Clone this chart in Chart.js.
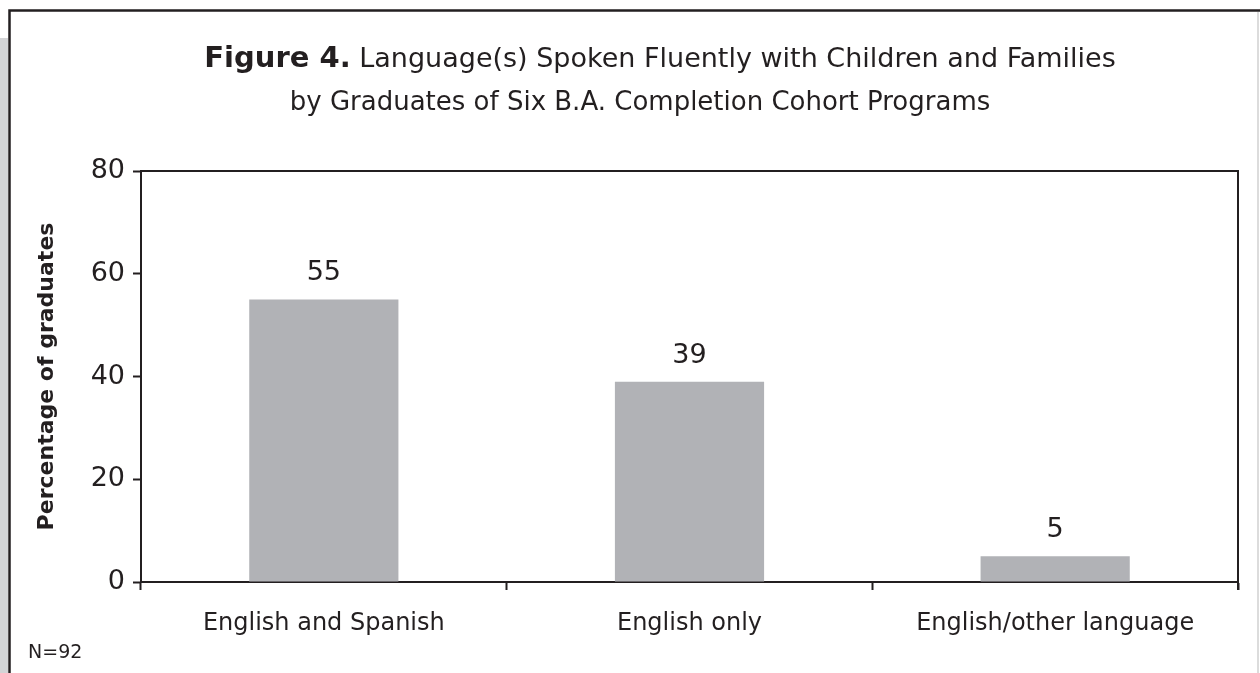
<!DOCTYPE html>
<html>
<head>
<meta charset="utf-8">
<script src="https://cdn.jsdelivr.net/npm/chart.js@4.4.1/dist/chart.umd.min.js"></script>
<style>
  html, body { margin: 0; padding: 0; background: #fff; }
  #wrap { width: 1260px; height: 673px; position: relative; }
</style>
</head>
<body>
<div id="wrap"><canvas id="langChart" width="1260" height="673"></canvas></div>
<script>
// data
const categories = ["English and Spanish", "English only", "English/other language"];
const percents = [55, 39, 5];
const yTicks = [0, 20, 40, 60, 80];
const titleBold = "Figure 4.";
const titleLine1 = " Language(s) Spoken Fluently with Children and Families";
const titleLine2 = "by Graduates of Six B.A. Completion Cohort Programs";
const noteText = "N=92";

const ink = "#231f20";
const barGray = "#b1b2b6";
const fontFam = "'DejaVu Sans', sans-serif";

// frame, gray strip and title
const framePlugin = {
    id: "frame",
    beforeDraw(chart){
        const c = chart.ctx;
        c.save();
        c.fillStyle = "#fff";
        c.fillRect(0, 0, chart.width, chart.height);
        c.fillStyle = "#d3d4d6";
        c.fillRect(0, 38, 8, chart.height - 38);
        c.strokeStyle = "#dcdcdc";
        c.lineWidth = 2;
        c.beginPath();
        c.moveTo(1258, 12); c.lineTo(1258, chart.height);
        c.stroke();
        c.strokeStyle = ink;
        c.lineWidth = 2.5;
        c.beginPath();
        c.moveTo(9.5, chart.height); c.lineTo(9.5, 10.5); c.lineTo(chart.width, 10.5);
        c.stroke();
        c.restore();
    },
    afterDraw(chart){
        const c = chart.ctx;
        c.save();
        c.fillStyle = ink;
        c.textBaseline = "alphabetic";
        c.textAlign = "left";
        const boldFont = "bold 29px " + fontFam;
        const normFont = "27px " + fontFam;
        c.font = boldFont;
        const w1 = c.measureText(titleBold).width;
        c.font = normFont;
        const w2 = c.measureText(titleLine1).width;
        let x = 660 - (w1 + w2) / 2;
        c.font = boldFont;
        c.fillText(titleBold, x, 67);
        c.font = normFont;
        c.fillText(titleLine1, x + w1, 67);
        c.textAlign = "center";
        c.font = "26px " + fontFam;
        c.fillText(titleLine2, 640, 110);

        c.textAlign = "left";
        c.font = "19px " + fontFam;
        c.fillText(noteText, 28, 658);
        c.restore();
    }
};

// top and right edge of plot box
const boxPlugin = {
    id: "box",
    afterDraw(chart){
        const a = chart.chartArea;
        const c = chart.ctx;
        c.save();
        c.strokeStyle = ink;
        c.lineWidth = 2;
        c.beginPath();
        c.moveTo(a.left, a.top); c.lineTo(a.right, a.top); c.lineTo(a.right, a.bottom + 8);
        c.stroke();
        c.restore();
    }
};

// value above each bar
const valuePlugin = {
    id: "values",
    afterDatasetsDraw(chart){
        const c = chart.ctx;
        const meta = chart.getDatasetMeta(0);
        c.save();
        c.fillStyle = ink;
        c.font = "27px " + fontFam;
        c.textAlign = "center";
        c.textBaseline = "alphabetic";
        meta.data.forEach((bar, i)=>{
            c.fillText(String(percents[i]), bar.x, bar.y - 19);
        });
        c.restore();
    }
};

new Chart(document.getElementById("langChart"), {
    type: "bar",
    data: {
        labels: categories,
        datasets: [{
            data: percents,
            backgroundColor: barGray,
            borderWidth: 0,
            barPercentage: 0.408,
            categoryPercentage: 1
        }]
    },
    options: {
        responsive: false,
        animation: false,
        layout: { padding: { top: 171, right: 22, left: 0, bottom: 0 } },
        plugins: {
            legend: { display: false },
            tooltip: { enabled: false },
            title: { display: false }
        },
        scales: {
            x: {
                grid: {
                    offset: true,
                    drawOnChartArea: false,
                    drawTicks: true,
                    tickLength: 8,
                    tickWidth: 2,
                    tickColor: ink
                },
                border: { display: true, color: ink, width: 2 },
                ticks: {
                    color: ink,
                    font: { family: fontFam, size: 24 },
                    padding: 19,
                    maxRotation: 0,
                    autoSkip: false
                },
                afterFit(scale){ scale.height = 91; }
            },
            y: {
                min: 0,
                max: 80,
                afterBuildTicks(scale){ scale.ticks = yTicks.map(v=>({ value: v })); },
                grid: {
                    drawOnChartArea: false,
                    drawTicks: true,
                    tickLength: 8,
                    tickWidth: 2,
                    tickColor: ink
                },
                border: { display: true, color: ink, width: 2 },
                ticks: {
                    color: ink,
                    font: { family: fontFam, size: 27 },
                    padding: 8
                },
                title: {
                    display: true,
                    text: "Percentage of graduates",
                    color: ink,
                    font: { family: fontFam, size: 22, weight: "bold" },
                    padding: { top: 34, bottom: 0 }
                },
                afterFit(scale){ scale.width = 141; }
            }
        }
    },
    plugins: [framePlugin, boxPlugin, valuePlugin]
});
</script>
</body>
</html>
